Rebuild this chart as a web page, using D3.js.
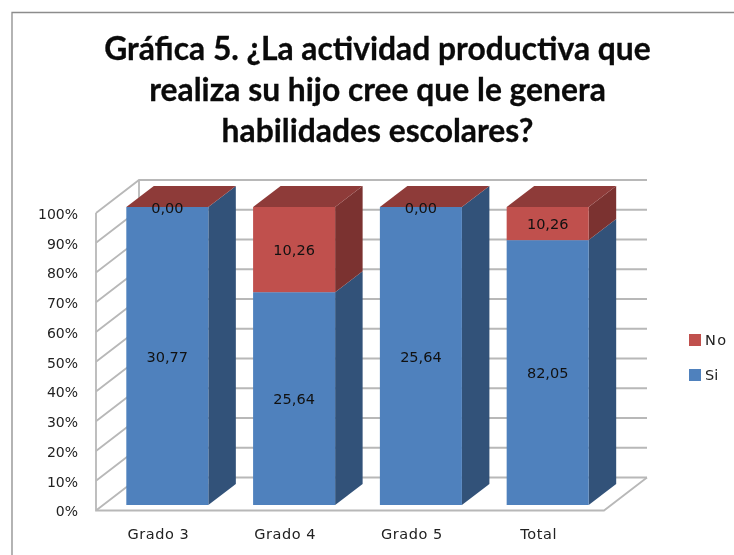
<!DOCTYPE html>
<html><head><meta charset="utf-8">
<script src="https://cdn.jsdelivr.net/npm/d3@7/dist/d3.min.js"></script>
<style>html,body{margin:0;background:#fff}svg{display:block;filter:blur(0.35px)}</style></head>
<body><script>
const categories = ["Grado 3","Grado 4","Grado 5","Total"];
const si = [30.77,25.64,25.64,82.05];
const no = [0.00,10.26,0.00,10.26];
const yTicks = [0,.1,.2,.3,.4,.5,.6,.7,.8,.9,1];
const titleLines = ["Gráfica 5. ¿La actividad productiva que","realiza su hijo cree que le genera","habilidades escolares?"];
const legendItems = ["No","Si"];

const W=734,H=555;
const svg=d3.select("body").append("svg").attr("width",W).attr("height",H);
const dx=43,dy=-33, bdx=27.5, bdy=-21;
const yWall=d3.scaleLinear().domain([0,1]).range([510.5,213]);
const yBar=d3.scaleLinear().domain([0,1]).range([505,207]);
const x=d3.scaleBand().domain(categories).range([104,611]).paddingInner(0.353).paddingOuter(0.176);

svg.append("path").attr("d","M12,555V12.5H734").attr("stroke","#8c8c8c").attr("fill","none").attr("stroke-width",1.3);

svg.append("g").selectAll("text").data(titleLines).join("text")
 .attr("x",377.5).attr("y",(d,i)=>59.5+i*41).attr("text-anchor","middle")
 .attr("font-family","Lato").attr("font-weight",700).attr("font-size",31.8).attr("stroke","#0a0a0a").attr("stroke-width",0.3).attr("fill","#0a0a0a").text(d=>d);

const grid="#b8b8b8";
const wall=svg.append("g").attr("fill","none").attr("stroke",grid).attr("stroke-width",1.8);
wall.selectAll("path.g").data(yTicks).join("path").attr("class","g")
 .attr("d",d=>`M96,${yWall(d)}L${96+dx},${yWall(d)+dy}H647`);
wall.append("path").attr("d",`M96,${yWall(1)}V${yWall(0)}H${647-dx}L647,${yWall(0)+dy}`);
wall.append("path").attr("d",`M${96+dx},${yWall(1)+dy}V${yWall(0)+dy}`);

const colors={si:{f:"#4f81bd",s:"#325279"},no:{f:"#c0504d",s:"#7b3230",t:"#8e3b39"}};
const bars=svg.append("g");
categories.forEach((c,i)=>{
  const tot=si[i]+no[i], X=x(c), w=x.bandwidth();
  const segs=[{k:"si",a:0,b:si[i]/tot},{k:"no",a:si[i]/tot,b:1}];
  segs.forEach(s=>{
    const y0=yBar(s.a),y1=yBar(s.b),col=colors[s.k];
    if(s.b>s.a){
      bars.append("path").attr("fill",col.s).attr("d",`M${X+w},${y0}l${bdx},${bdy}V${y1+bdy}L${X+w},${y1}Z`);
      bars.append("rect").attr("x",X).attr("y",y1).attr("width",w).attr("height",y0-y1).attr("fill",col.f);
    }
  });
  bars.append("path").attr("fill",colors.no.t).attr("d",`M${X},${yBar(1)}l${bdx},${bdy}h${w}l${-bdx},${-bdy}Z`);
});

const lab=svg.append("g").attr("font-family","DejaVu Sans").attr("font-size",14.5).attr("fill","#111").attr("text-anchor","middle");
categories.forEach((c,i)=>{
  const tot=si[i]+no[i],cx=x(c)+x.bandwidth()/2;
  const f=v=>v.toFixed(2).replace(".",",");
  lab.append("text").attr("x",cx).attr("y",yBar(si[i]/tot/2)+5.5).text(f(si[i]));
  lab.append("text").attr("x",cx).attr("y",yBar(si[i]/tot+no[i]/tot/2)+5.5).text(f(no[i]));
});

const yAxis=d3.axisLeft(yWall).tickValues(yTicks).tickSize(0).tickFormat(d3.format(".0%"));
const ga=svg.append("g").attr("transform","translate(83,0.8)").call(yAxis);
ga.select(".domain").remove();
ga.selectAll("text").attr("font-family","DejaVu Sans").attr("font-size",14).attr("fill","#222").attr("x",-5);

const xAxis=d3.axisBottom(x).tickSize(0);
const gx=svg.append("g").attr("transform","translate(-9,526)").call(xAxis);
gx.select(".domain").remove();
gx.selectAll("text").attr("font-family","DejaVu Sans").attr("font-size",14.5).attr("letter-spacing",0.55).attr("fill","#222").attr("dy",0).attr("y",13);

const lg=svg.append("g");
legendItems.forEach((t,i)=>{
  const yy=340+i*35;
  lg.append("rect").attr("x",689).attr("y",yy-6).attr("width",12).attr("height",12).attr("fill",i?colors.si.f:colors.no.f);
  lg.append("text").attr("x",705).attr("y",yy+5).attr("font-family","DejaVu Sans").attr("font-size",14.5).attr("fill","#222").attr("letter-spacing",i?0:1.5).text(t);
});
</script></body></html>
